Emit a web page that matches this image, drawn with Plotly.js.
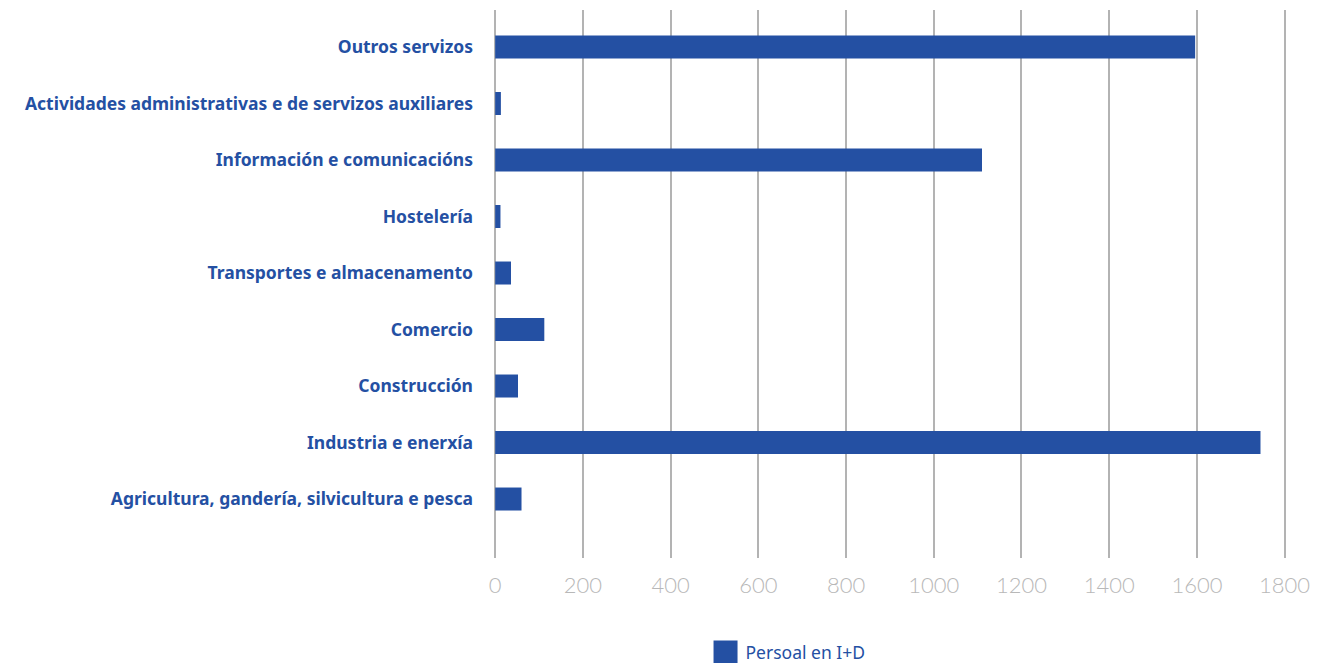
<!DOCTYPE html>
<html>
<head>
<meta charset="utf-8">
<script src="https://cdn.plot.ly/plotly-3.0.1.min.js"></script>
<style>html,body{margin:0;padding:0;background:#fff;}#chart{width:1344px;height:663px;}</style>
</head>
<body>
<div id="chart"></div>
<script>
const categories = [
  "Agricultura, gandería, silvicultura e pesca",
  "Industria e enerxía",
  "Construcción",
  "Comercio",
  "Transportes e almacenamento",
  "Hostelería",
  "Información e comunicacións",
  "Actividades administrativas e de servizos auxiliares",
  "Outros servizos"
];
const persoalID = [60, 1745, 52, 112, 36, 12, 1110, 13, 1596];
const xTicks = [0, 200, 400, 600, 800, 1000, 1200, 1400, 1600, 1800];
const seriesName = "Persoal en I+D";

const blue = "#2450a3";
const trace = {
  type: "bar",
  orientation: "h",
  x: persoalID,
  y: categories,
  name: seriesName,
  marker: {color: blue},
  showlegend: true,
  hoverinfo: "x+y"
};

const layout = {
  width: 1344,
  height: 663,
  margin: {l: 493, r: 55, t: 10, b: 105, pad: 0, autoexpand: false},
  paper_bgcolor: "#fff",
  plot_bgcolor: "#fff",
  bargap: 0.593,
  showlegend: true,
  legend: {
    orientation: "h",
    x: 0.267, xanchor: "left",
    y: -0.14, yanchor: "top",
    font: {family: "Noto Sans, sans-serif", size: 17.5, color: blue}
  },
  xaxis: {
    range: [-5, 1810],
    tickvals: xTicks,
    ticktext: xTicks.map(String),
    showgrid: true,
    gridcolor: "#b3b3b3",
    gridwidth: 2,
    zeroline: false,
    showline: false,
    ticks: "",
    ticklabelstandoff: 12,
    tickfont: {family: "Lato, sans-serif", size: 22, color: "#b8b8b8", weight: 300},
    fixedrange: true
  },
  yaxis: {
    type: "category",
    range: [-1.044, 8.655],
    showgrid: false,
    zeroline: false,
    showline: false,
    ticks: "",
    ticklabelstandoff: 19,
    tickfont: {family: "Noto Sans, sans-serif", size: 17.5, color: blue, weight: 700},
    fixedrange: true
  }
};

Plotly.newPlot("chart", [trace], layout, {displayModeBar: false, staticPlot: true}).then(function(){
  const pts = document.querySelectorAll('#chart .legendpoints path');
  pts.forEach(function(p){ p.setAttribute('d', 'M12,12H-12V-12H12Z'); });
});
</script>
</body>
</html>
